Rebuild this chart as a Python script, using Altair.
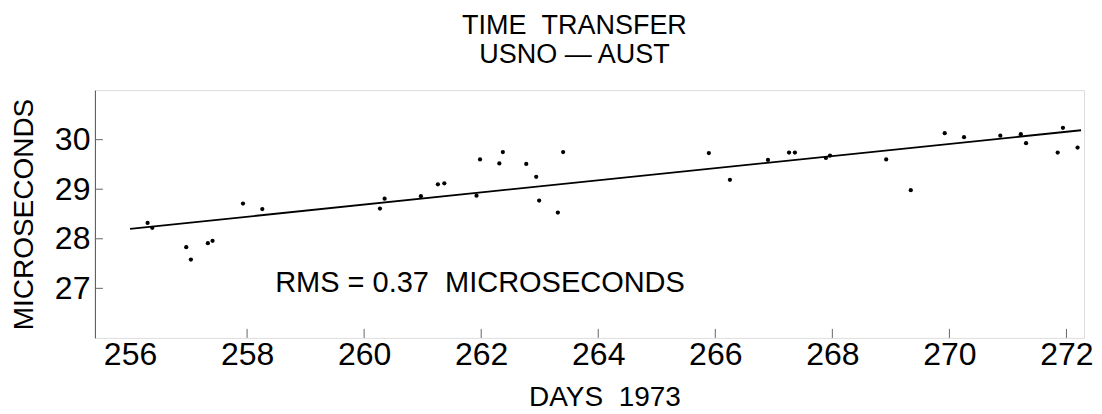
import altair as alt
import pandas as pd

# Observed time-transfer points (day of 1973, microseconds)
days = [256.30, 256.38, 256.96, 257.04, 257.33, 257.41, 257.93, 258.26,
        260.27, 260.35, 260.97, 261.26, 261.37, 261.92, 261.98, 262.31,
        262.37, 262.77, 262.94, 262.99, 263.31, 263.40,
        265.89, 266.25, 266.90, 267.26, 267.36, 267.89, 267.96,
        268.92, 269.34, 269.92, 270.25, 270.87, 271.22, 271.31,
        271.85, 271.94, 272.19]
micro = [28.32, 28.22, 27.83, 27.58, 27.91, 27.96, 28.71, 28.60,
         28.61, 28.81, 28.86, 29.10, 29.12, 28.87, 29.60, 29.52,
         29.75, 29.51, 29.25, 28.77, 28.53, 29.75,
         29.73, 29.19, 29.59, 29.74, 29.74, 29.63, 29.68,
         29.60, 28.98, 30.13, 30.05, 30.08, 30.11, 29.93,
         29.74, 30.24, 29.84]

# Fitted line endpoints
fit_days = [256.0, 272.25]
fit_micro = [28.20, 30.19]

x_ticks = [256, 258, 260, 262, 264, 266, 268, 270, 272]
x_inner_ticks = [258, 260, 262, 264, 266, 268, 270, 272]
y_ticks = [27, 28, 29, 30]

NB = "\u00a0"
title_lines = ["TIME" + NB + NB + "TRANSFER", "USNO \u2014 AUST"]
note_text = ["RMS = 0.37" + NB + NB + "MICROSECONDS"]
note_day = [258.48]
note_val = [27.11]
x_title = "DAYS" + NB + NB + "1973"

FONT = "Liberation Sans"

pts = pd.DataFrame({"day": days, "us": micro})
fit = pd.DataFrame({"day": fit_days, "us": fit_micro})
xt = pd.DataFrame({"day": x_inner_ticks})
yt = pd.DataFrame({"us": y_ticks})
note = pd.DataFrame({"day": note_day, "us": note_val, "t": note_text})

xscale = alt.Scale(domain=[255.4, 272.3], nice=False, zero=False)
yscale = alt.Scale(domain=[26, 31], nice=False, zero=False)

xaxis = alt.Axis(values=x_ticks, format="d", domain=False, ticks=False, tickSize=0,
                 grid=False, labelFontSize=32, labelFont=FONT, labelPadding=2,
                 labelColor="black", title=x_title, titleFont=FONT,
                 titleFontSize=28, titleFontWeight="normal", titleColor="black",
                 titleX=510, titleY=46, titleBaseline="top", titleAnchor="start",
                 titleAlign="center", labelFlush=False, labelOverlap=False)
yaxis = alt.Axis(values=y_ticks, format="d", domain=True, domainColor="#555555",
                 domainWidth=1, ticks=False, tickSize=0, grid=False,
                 labelFontSize=32, labelFont=FONT, labelPadding=5,
                 labelColor="black", title="MICROSECONDS", titleFont=FONT,
                 titleFontSize=28, titleFontWeight="normal", titleColor="black",
                 titleX=-70, titleY=124, titleBaseline="middle", titleAlign="center",
                 titleAngle=270, labelFlush=False, labelOverlap=False)

points = alt.Chart(pts).mark_circle(size=18, color="black", opacity=1).encode(
    x=alt.X("day:Q", scale=xscale, axis=xaxis),
    y=alt.Y("us:Q", scale=yscale, axis=yaxis),
)

line = alt.Chart(fit).mark_line(color="black", strokeWidth=1.8).encode(
    x=alt.X("day:Q", scale=xscale),
    y=alt.Y("us:Q", scale=yscale),
)

xtick_rules = alt.Chart(xt).mark_rule(color="#666666", strokeWidth=1).encode(
    x=alt.X("day:Q", scale=xscale),
    y=alt.value(239),
    y2=alt.value(248),
)

ytick_rules = alt.Chart(yt).mark_rule(color="#666666", strokeWidth=1).encode(
    y=alt.Y("us:Q", scale=yscale),
    x=alt.value(0),
    x2=alt.value(8),
)

note_mark = alt.Chart(note).mark_text(font=FONT, fontSize=29, align="left",
                                      baseline="middle", color="black").encode(
    x=alt.X("day:Q", scale=xscale),
    y=alt.Y("us:Q", scale=yscale),
    text="t:N",
)

chart = alt.layer(xtick_rules, ytick_rules, line, points, note_mark).properties(
    width=990,
    height=248,
    autosize=alt.AutoSizeParams(type="none"),
    padding={"left": 87, "top": 82, "right": 10, "bottom": 76},
    title=alt.TitleParams(title_lines, font=FONT, fontSize=27, fontWeight="normal",
                          color="black", anchor="middle", offset=21, lineHeight=29,
                          dx=-15),
).configure_view(stroke=None).configure(background="white")

chart.save("out.html", embed_options={"renderer": "svg", "actions": False})
